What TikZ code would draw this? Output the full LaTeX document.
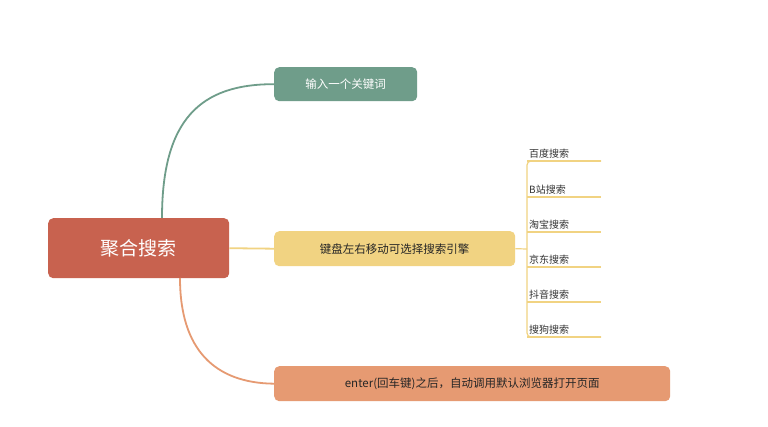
\documentclass[tikz,border=0pt]{standalone}
\usepackage{fontspec}
\setmainfont{Noto Sans CJK SC}
\begin{document}
\begin{tikzpicture}[x=1pt,y=-1pt,
 box/.style={rounded corners=5pt,inner sep=0pt,anchor=north west},
 leaf/.style={font=\fontsize{10}{12}\selectfont,text=black!80,anchor=south west,inner sep=2pt}]
\definecolor{cmain}{HTML}{C8624F}
\definecolor{cgreen}{HTML}{6F9D8A}
\definecolor{cyel}{HTML}{F1D382}
\definecolor{corg}{HTML}{E69A72}
\useasboundingbox (0,0) rectangle (768,427);
\fill[white] (0,0) rectangle (768,427);
\node[box,fill=cmain,minimum width=181pt,minimum height=60pt,text=white,font=\fontsize{19}{22}\selectfont] (m) at (48,218) {聚合搜索};
\node[box,fill=cgreen,minimum width=143pt,minimum height=34pt,text=white,font=\fontsize{11.5}{14}\selectfont] (a) at (274,67) {输入一个关键词};
\node[box,fill=cyel,minimum width=241pt,minimum height=35pt,text=black!85,font=\fontsize{11.5}{14}\selectfont] (b) at (274,231) {键盘左右移动可选择搜索引擎};
\node[box,fill=corg,minimum width=396pt,minimum height=35pt,text=black!85,font=\fontsize{11.5}{14}\selectfont] (c) at (274,366) {enter(回车键)之后，自动调用默认浏览器打开页面};
\draw[cgreen,line width=1.8pt] (162,218) .. controls (162,120) and (200,84) .. (a.west);
\draw[cyel,line width=1.8pt] (m.east) -- (b.west);
\draw[corg,line width=1.8pt] (180,278) .. controls (180,350) and (215,383) .. (c.west);
\coordinate (j) at (527,249);
\draw[cyel,line width=1.2pt] (b.east) -- (j);
\foreach \t/\y [count=\i] in {百度搜索/161,B站搜索/197,淘宝搜索/232,京东搜索/267,抖音搜索/302,搜狗搜索/337}{
  \node[leaf] (l\i) at (527,\y) {\t};
  \draw[cyel,line width=1.2pt] (527,\y) -- (601,\y);
}
\draw[cyel,line width=1.2pt,rounded corners=4pt] (601,161) -- (527,161) -- (527,337) -- (601,337);
\end{tikzpicture}
\end{document}
